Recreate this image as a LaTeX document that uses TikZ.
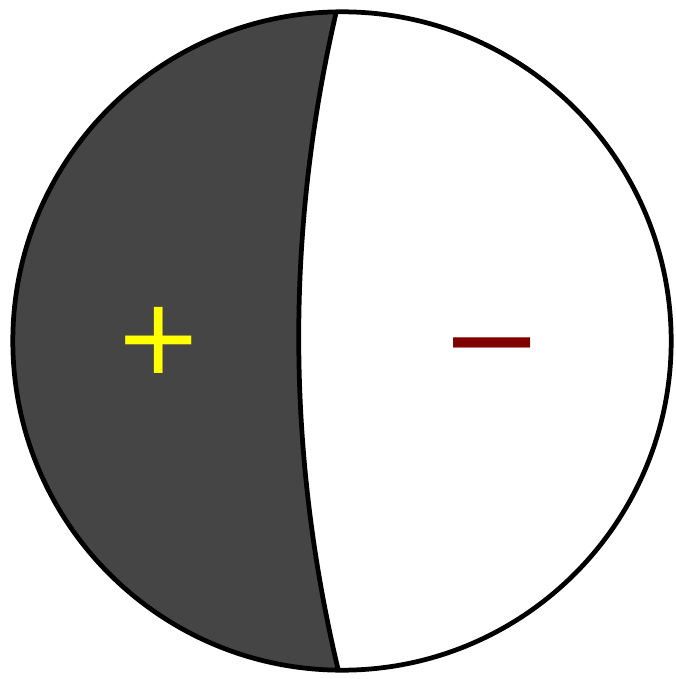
\documentclass[tikz,border=0pt]{standalone}
\usepackage{fontspec}
\setmainfont{DejaVu Sans}
\usetikzlibrary{calc}
\definecolor{ShadeClr}{RGB}{69,69,69}
\definecolor{PlusClr}{RGB}{255,255,0}
\definecolor{MinusClr}{RGB}{128,0,0}

\begin{document}
\begin{tikzpicture}[x=0.01cm,y=-0.01cm,
  rim/.style={line width=1.35pt,color=black},
  signlbl/.style={inner sep=0pt,outer sep=0pt}]
\useasboundingbox (0,0) rectangle (676,679);

\coordinate (O) at (342,341);
\coordinate (N) at (336,13);
\coordinate (S) at (338,669);

% shaded hemisphere
\begin{scope}
\clip (O) circle (3.29cm);
\fill[ShadeClr] (N) .. controls (286,230) and (286,450) .. (S) -- (0,679) -- (0,0) -- cycle;
\end{scope}

\draw[rim] (O) circle (3.29cm);
\draw[rim] (N) .. controls (286,230) and (286,450) .. (S);

\node[signlbl,text=PlusClr,font=\fontsize{30}{30}\selectfont] (plus) at (159,340) {+};
\node[signlbl,text=MinusClr,font=\fontsize{35}{35}\selectfont] (minus) at (492,360) {−};

\end{tikzpicture}
\end{document}
